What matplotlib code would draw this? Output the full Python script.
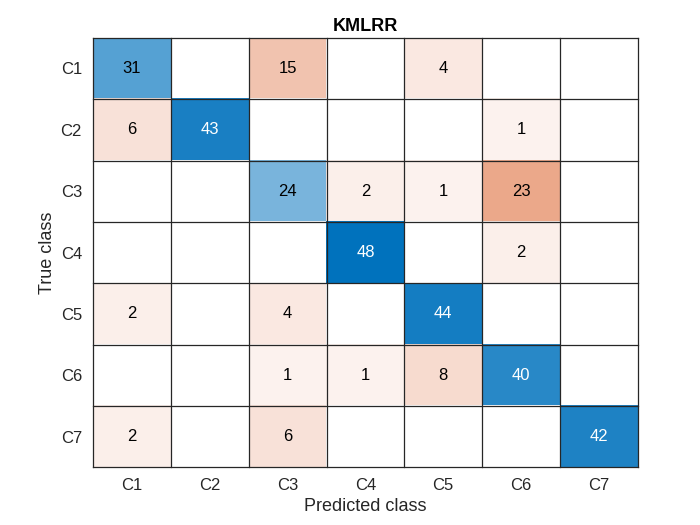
import numpy as np
import matplotlib.pyplot as plt

plt.rcParams['font.family'] = ['Liberation Sans', 'DejaVu Sans']

# class labels
classes = ['C1', 'C2', 'C3', 'C4', 'C5', 'C6', 'C7']

# confusion matrix rows = true class, columns = predicted class
row_c1 = [31, 0, 15, 0, 4, 0, 0]
row_c2 = [6, 43, 0, 0, 0, 1, 0]
row_c3 = [0, 0, 24, 2, 1, 23, 0]
row_c4 = [0, 0, 0, 48, 0, 2, 0]
row_c5 = [2, 0, 4, 0, 44, 0, 0]
row_c6 = [0, 0, 1, 1, 8, 40, 0]
row_c7 = [2, 0, 6, 0, 0, 0, 42]
cm = np.array([row_c1, row_c2, row_c3, row_c4, row_c5, row_c6, row_c7])

# matlab-ish colours
blue = np.array([0, 114, 189]) / 255
orange = np.array([217, 83, 25]) / 255
white = np.array([1.0, 1.0, 1.0])

n = len(classes)
vmax = cm.max()
img = np.ones((n, n, 3))
for i in range(n):
    for j in range(n):
        if cm[i, j] == 0:
            continue
        t = 0.05 + 0.95 * cm[i, j] / vmax
        target = blue if i == j else orange
        img[i, j] = white + t * (target - white)

fig = plt.figure(figsize=(7, 5.25), dpi=100)
ax = fig.add_axes([0.133, 0.110, 0.778, 0.818])
ax.imshow(img, aspect='auto', extent=(-0.5, n - 0.5, n - 0.5, -0.5), interpolation='nearest')

# grid lines between cells
for k in range(n + 1):
    ax.axhline(k - 0.5, color='#262626', linewidth=0.9, clip_on=False)
    ax.axvline(k - 0.5, color='#262626', linewidth=0.9, clip_on=False)

# cell text
for i in range(n):
    for j in range(n):
        v = cm[i, j]
        if v == 0:
            continue
        col = 'white' if v / vmax > 0.7 else 'black'
        ax.text(j, i, str(v), ha='center', va='center', fontsize=12, color=col)

ax.set_xticks(range(n))
ax.set_xticklabels(classes, fontsize=12, color='#262626')
ax.set_yticks(range(n))
ax.set_yticklabels(classes, fontsize=12, color='#262626')
ax.tick_params(length=0, pad=8)
for s in ax.spines.values():
    s.set_visible(False)
ax.set_xlim(-0.5, n - 0.5)
ax.set_ylim(n - 0.5, -0.5)
ax.set_xlabel('Predicted class', fontsize=13, color='#262626', labelpad=3)
ax.set_ylabel('True class', fontsize=13, color='#262626', labelpad=3)
ax.set_title('KMLRR', fontsize=13, fontweight='bold', pad=5)

fig.savefig('out.png', dpi=100)
